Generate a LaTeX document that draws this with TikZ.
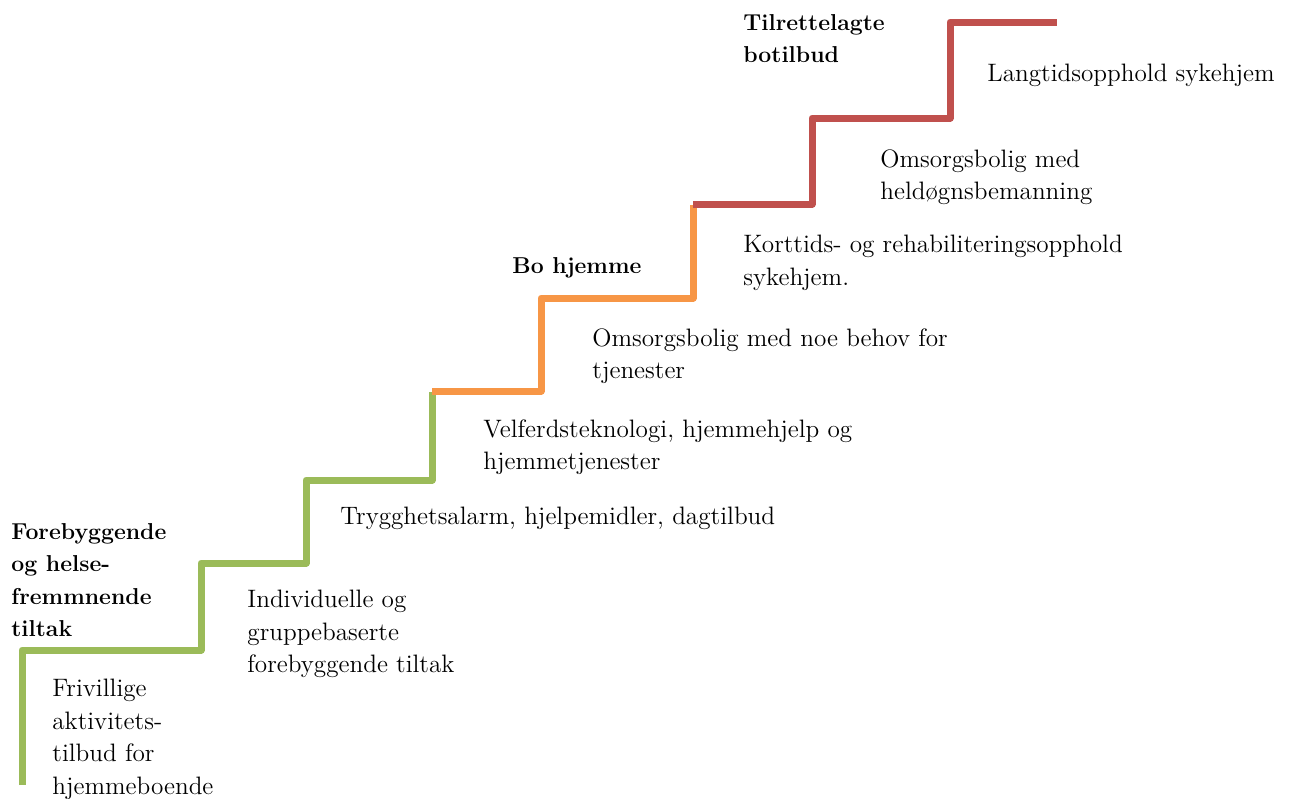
\documentclass[tikz,border=0pt]{standalone}
\usepackage{tikz}

\definecolor{stairgreen}{RGB}{155,187,89}
\definecolor{stairorange}{RGB}{247,150,70}
\definecolor{stairred}{RGB}{192,80,77}

\begin{document}
\begin{tikzpicture}
 [x=0.5pt, y=-0.5pt,
  stair line/.style={line width=3.5pt, line join=round},
  text node/.style={anchor=north west, inner sep=0pt, align=left, font=\fontsize{12.6}{16.25}\selectfont},
  head node/.style={text node, font=\fontsize{11.5}{16.25}\selectfont\bfseries}]

\useasboundingbox (0,0) rectangle (1290,798);

% the stairs
\draw[stair line, stairgreen] (22,785) -- (22,650) -- (201,650) -- (201,563) -- (306,563) -- (306,480) -- (432,480) -- (432,392);
\draw[stair line, stairorange] (432,391) -- (541,391) -- (541,298) -- (693,298) -- (693,205);
\draw[stair line, stairred] (693,204) -- (812,204) -- (812,118) -- (950,118) -- (950,22) -- (1057,22);

% headings
\node[head node] (bot) at (743,14) {Tilrettelagte\\botilbud};
\node[head node] (bo) at (512,257) {Bo hjemme};
\node[head node] (fore) at (11,523) {Forebyggende\\og helse-\\fremmnende\\tiltak};

% steps
\node[text node] (lang) at (987,64) {Langtidsopphold sykehjem};
\node[text node] (held) at (880,149) {Omsorgsbolig med\\heldøgnsbemanning};
\node[text node] (kort) at (743,235) {Korttids- og rehabiliteringsopphold\\sykehjem.};
\node[text node] (noe) at (592,328) {Omsorgsbolig med noe behov for\\tjenester};
\node[text node] (velf) at (483,419) {Velferdsteknologi, hjemmehjelp og\\hjemmetjenester};
\node[text node] (tryg) at (340,507) {Trygghetsalarm, hjelpemidler, dagtilbud};
\node[text node] (indi) at (247,590) {Individuelle og\\gruppebaserte\\forebyggende tiltak};
\node[text node] (friv) at (52,679) {Frivillige\\aktivitets-\\tilbud for\\hjemmeboende};

\end{tikzpicture}
\end{document}
